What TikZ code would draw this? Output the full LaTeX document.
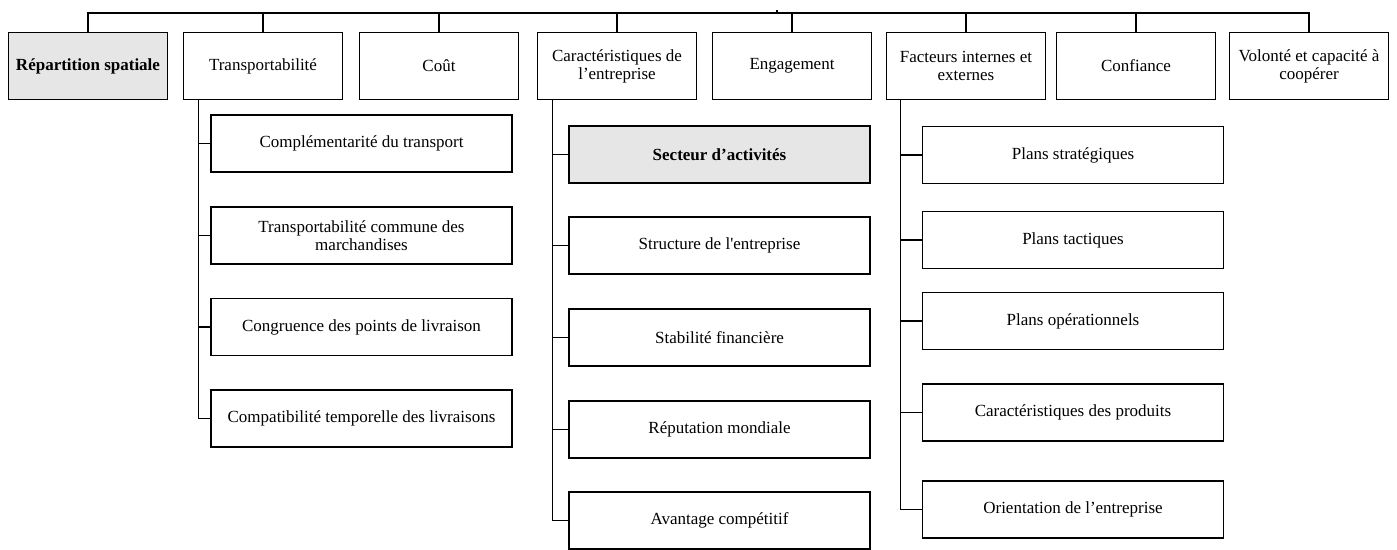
\documentclass[tikz,border=0pt]{standalone}
\usepackage{fontspec}
\setmainfont{Liberation Serif}[Ligatures=TeXOff]
\usetikzlibrary{positioning}
\definecolor{boxgray}{RGB}{230,230,230}

\begin{document}
\begin{tikzpicture}[
      x=1pt, y=-1pt,
      topbox/.style={draw, line width=1.9pt, minimum width=159pt, minimum height=67pt, inner sep=2pt, align=center, font=\fontsize{17}{18}\selectfont},
      subbox/.style={draw, line width=1.9pt, minimum width=301pt, minimum height=57pt, inner sep=2pt, align=center, font=\fontsize{17}{18}\selectfont},
      shaded/.style={fill=boxgray, font=\fontsize{17}{18}\selectfont\bfseries},
      link/.style={line width=1.2pt}
  ]
    \useasboundingbox (0,0) rectangle (1397,549);

    % first level
    \node[topbox, shaded] (t1) at (88,66) {Répartition spatiale};
    \node[topbox] (t2) at (263,66) {Transportabilité};
    \node[topbox] (t3) at (439,66) {Coût};
    \node[topbox] (t4) at (617,66) {Caractéristiques de\\l’entreprise};
    \node[topbox] (t5) at (792,66) {Engagement};
    \node[topbox] (t6) at (966,66) {Facteurs internes et\\externes};
    \node[topbox] (t7) at (1136,66) {Confiance};
    \node[topbox] (t8) at (1309,66) {Volonté et capacité à\\coopérer};

    % transportabilite
    \node[subbox] (tr1) at (361.5,143.5) {Complémentarité du transport};
    \node[subbox] (tr2) at (361.5,235.5) {Transportabilité commune des\\marchandises};
    \node[subbox] (tr3) at (361.5,327) {Congruence des points de livraison};
    \node[subbox] (tr4) at (361.5,418.5) {Compatibilité temporelle des livraisons};

    % caracteristiques
    \node[subbox, shaded] (ca1) at (719.5,154.5) {Secteur d’activités};
    \node[subbox] (ca2) at (719.5,245.5) {Structure de l'entreprise};
    \node[subbox] (ca3) at (719.5,337.5) {Stabilité financière};
    \node[subbox] (ca4) at (719.5,429.5) {Réputation mondiale};
    \node[subbox] (ca5) at (719.5,520.5) {Avantage compétitif};

    % facteurs
    \node[subbox] (fa1) at (1073,155) {Plans stratégiques};
    \node[subbox] (fa2) at (1073,240) {Plans tactiques};
    \node[subbox] (fa3) at (1073,321) {Plans opérationnels};
    \node[subbox] (fa4) at (1073,412.5) {Caractéristiques des produits};
    \node[subbox] (fa5) at (1073,509.5) {Orientation de l’entreprise};

    % top bar
    \coordinate (root) at (777,13);
    \draw[link] (t1.north) |- (root) -| (t8.north);
    \draw[link] (root) -- ++(0,-3);
    \foreach \n in {2,...,7}
      \draw[link] (t\n.north) -- (t\n.north |- root);

    % trunks
    \coordinate (trk2) at ([xshift=16pt]t2.south west);
    \coordinate (trk4) at ([xshift=16pt]t4.south west);
    \coordinate (trk6) at ([xshift=15pt]t6.south west);
    \draw[link] (trk2) |- (tr4.west);
    \foreach \c in {tr1,tr2,tr3}
      \draw[link] (\c.west) -- (\c.west -| trk2);
    \draw[link] (trk4) |- (ca5.west);
    \foreach \c in {ca1,ca2,ca3,ca4}
      \draw[link] (\c.west) -- (\c.west -| trk4);
    \draw[link] (trk6) |- (fa5.west);
    \foreach \c in {fa1,fa2,fa3,fa4}
      \draw[link] (\c.west) -- (\c.west -| trk6);
  \end{tikzpicture}
\end{document}
